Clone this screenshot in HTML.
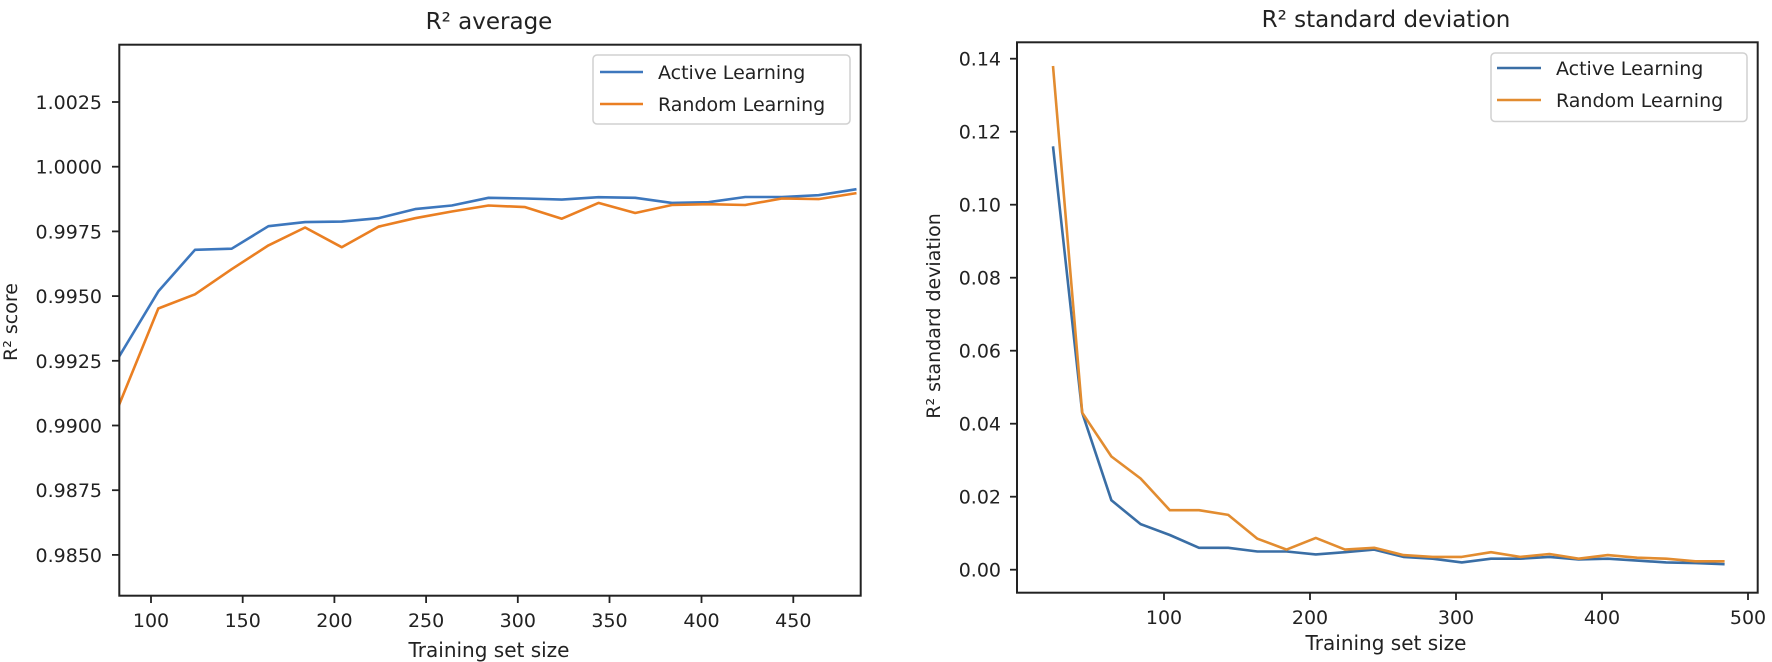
<!DOCTYPE html>
<html><head><meta charset="utf-8"><style>
html,body{margin:0;padding:0;background:#fff;}
svg{display:block;}
text{font-family:"DejaVu Sans","Liberation Sans",sans-serif;fill:#222;}
</style></head><body>
<svg width="1772" height="662" viewBox="0 0 1772 662" xmlns="http://www.w3.org/2000/svg">
<defs>
<clipPath id="c1"><rect x="119.3" y="44.7" width="741.4" height="551"/></clipPath>
<clipPath id="c2"><rect x="1017" y="42.3" width="740.7" height="550.4"/></clipPath>
</defs>
<!-- Left chart -->
<text x="489" y="29" font-size="23" text-anchor="middle">R² average</text>
<g clip-path="url(#c1)" fill="none" stroke-width="2.6" stroke-linejoin="round">
<polyline stroke="#3d77bd" points="117,360 158.3,291.4 195,249.8 231.7,248.7 268.4,226.2 305.1,222.1 341.7,221.6 378.4,218.2 415.1,209.1 451.8,205.5 488.5,197.8 525.1,198.5 561.8,199.6 598.5,197.2 635.2,197.8 671.9,202.9 708.5,202.2 745.2,197 781.9,197 818.6,195.2 856.5,189.2"/>
<polyline stroke="#ea7f22" points="117,410 158.3,308.5 195,294.3 231.7,269.2 268.4,245.4 305.1,227.5 341.7,247.2 378.4,226.7 415.1,218.2 451.8,211.5 488.5,205.5 525.1,207.1 561.8,218.7 598.5,202.9 635.2,213 671.9,205 708.5,204.2 745.2,205 781.9,198.5 818.6,199.1 856.5,193.1"/>
</g>
<rect x="119.3" y="44.7" width="741.4" height="551" fill="none" stroke="#222" stroke-width="2"/>
<g stroke="#222" stroke-width="1.8">
<line x1="112" x2="119" y1="102" y2="102"/><line x1="112" x2="119" y1="166.7" y2="166.7"/><line x1="112" x2="119" y1="231.4" y2="231.4"/><line x1="112" x2="119" y1="296.1" y2="296.1"/><line x1="112" x2="119" y1="360.8" y2="360.8"/><line x1="112" x2="119" y1="425.5" y2="425.5"/><line x1="112" x2="119" y1="490.2" y2="490.2"/><line x1="112" x2="119" y1="554.9" y2="554.9"/>
<line x1="151" x2="151" y1="596" y2="603"/><line x1="242.7" x2="242.7" y1="596" y2="603"/><line x1="334.4" x2="334.4" y1="596" y2="603"/><line x1="426.1" x2="426.1" y1="596" y2="603"/><line x1="517.8" x2="517.8" y1="596" y2="603"/><line x1="609.5" x2="609.5" y1="596" y2="603"/><line x1="701.5" x2="701.5" y1="596" y2="603"/><line x1="793.3" x2="793.3" y1="596" y2="603"/>
</g>
<g font-size="19" text-anchor="end">
<text x="102" y="109">1.0025</text><text x="102" y="173.7">1.0000</text><text x="102" y="238.4">0.9975</text><text x="102" y="303.1">0.9950</text><text x="102" y="367.8">0.9925</text><text x="102" y="432.5">0.9900</text><text x="102" y="497.2">0.9875</text><text x="102" y="561.9">0.9850</text>
</g>
<g font-size="19" text-anchor="middle">
<text x="151" y="627">100</text><text x="242.7" y="627">150</text><text x="334.4" y="627">200</text><text x="426.1" y="627">250</text><text x="517.8" y="627">300</text><text x="609.5" y="627">350</text><text x="701.5" y="627">400</text><text x="793.3" y="627">450</text>
</g>
<text x="489" y="657" font-size="20" text-anchor="middle">Training set size</text>
<text transform="translate(17,322) rotate(-90)" font-size="19" text-anchor="middle">R² score</text>
<rect x="593" y="55" width="257" height="69" rx="4" fill="#fff" stroke="#ccc" stroke-width="1.5" opacity="0.9"/>
<line x1="600" x2="643" y1="72" y2="72" stroke="#3d77bd" stroke-width="2.6"/>
<line x1="600" x2="643" y1="104" y2="104" stroke="#ea7f22" stroke-width="2.6"/>
<text x="658" y="79" font-size="19">Active Learning</text>
<text x="658" y="111" font-size="19">Random Learning</text>

<!-- Right chart -->
<text x="1386" y="27" font-size="23" text-anchor="middle">R² standard deviation</text>
<g clip-path="url(#c2)" fill="none" stroke-width="2.6" stroke-linejoin="round">
<polyline stroke="#3a6ea5" points="1053,146.3 1082.2,412.7 1111.4,500.3 1140.6,524.1 1169.8,535 1199,547.8 1228.2,547.8 1257.4,551.5 1286.6,551.5 1315.8,554.4 1345,552.2 1374.2,549.6 1403.4,556.9 1432.6,558.7 1461.8,562.4 1491,558.7 1520.2,558.7 1549.4,556.9 1578.6,559.5 1607.8,558.7 1637,560.6 1666.2,562.4 1695.4,563.1 1724.6,564.2"/>
<polyline stroke="#e28c30" points="1053,66 1082.2,412.7 1111.4,456.5 1140.6,478.5 1169.8,510.2 1199,510.2 1228.2,514.9 1257.4,538.7 1286.6,549.6 1315.8,537.9 1345,549.6 1374.2,547.8 1403.4,555.1 1432.6,556.9 1461.8,556.9 1491,552.2 1520.2,556.9 1549.4,554 1578.6,558.7 1607.8,555.1 1637,557.7 1666.2,558.7 1695.4,561.3 1724.6,561.3"/>
</g>
<rect x="1017" y="42.3" width="740.7" height="550.4" fill="none" stroke="#222" stroke-width="2"/>
<g stroke="#222" stroke-width="1.8">
<line x1="1010" x2="1017" y1="58.7" y2="58.7"/><line x1="1010" x2="1017" y1="131.7" y2="131.7"/><line x1="1010" x2="1017" y1="204.7" y2="204.7"/><line x1="1010" x2="1017" y1="277.7" y2="277.7"/><line x1="1010" x2="1017" y1="350.7" y2="350.7"/><line x1="1010" x2="1017" y1="423.7" y2="423.7"/><line x1="1010" x2="1017" y1="496.7" y2="496.7"/><line x1="1010" x2="1017" y1="569.7" y2="569.7"/>
<line x1="1164" x2="1164" y1="593" y2="600"/><line x1="1310" x2="1310" y1="593" y2="600"/><line x1="1456" x2="1456" y1="593" y2="600"/><line x1="1602" x2="1602" y1="593" y2="600"/><line x1="1748" x2="1748" y1="593" y2="600"/>
</g>
<g font-size="19" text-anchor="end">
<text x="1001" y="65.7">0.14</text><text x="1001" y="138.7">0.12</text><text x="1001" y="211.7">0.10</text><text x="1001" y="284.7">0.08</text><text x="1001" y="357.7">0.06</text><text x="1001" y="430.7">0.04</text><text x="1001" y="503.7">0.02</text><text x="1001" y="576.7">0.00</text>
</g>
<g font-size="19" text-anchor="middle">
<text x="1164" y="624">100</text><text x="1310" y="624">200</text><text x="1456" y="624">300</text><text x="1602" y="624">400</text><text x="1748" y="624">500</text>
</g>
<text x="1386" y="650" font-size="20" text-anchor="middle">Training set size</text>
<text transform="translate(940,316) rotate(-90)" font-size="19" text-anchor="middle">R² standard deviation</text>
<rect x="1491" y="53" width="256" height="68.5" rx="4" fill="#fff" stroke="#ccc" stroke-width="1.5" opacity="0.9"/>
<line x1="1497" x2="1541" y1="68" y2="68" stroke="#3a6ea5" stroke-width="2.6"/>
<line x1="1497" x2="1541" y1="100" y2="100" stroke="#e28c30" stroke-width="2.6"/>
<text x="1556" y="75" font-size="19">Active Learning</text>
<text x="1556" y="107" font-size="19">Random Learning</text>
</svg>
</body></html>
